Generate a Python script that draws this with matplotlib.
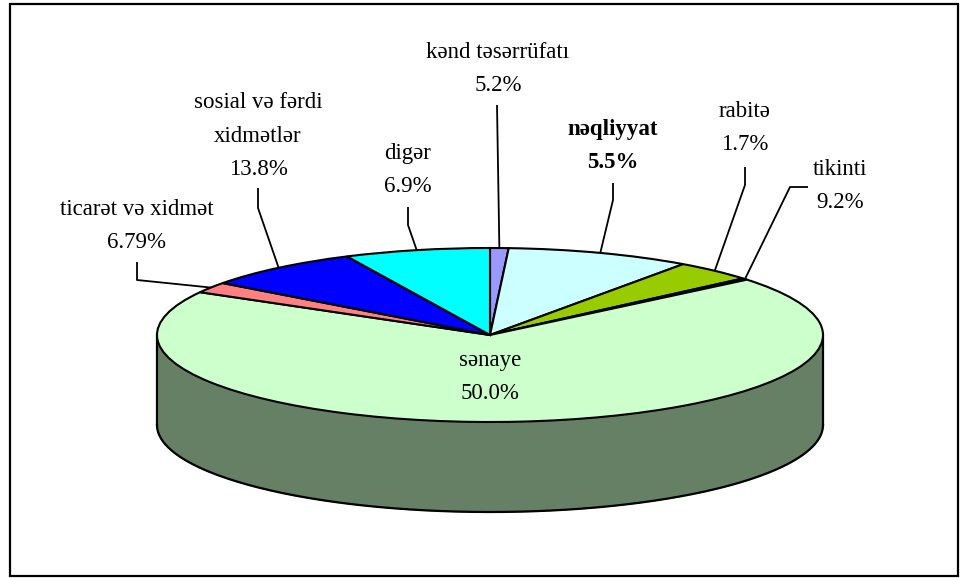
import numpy as np
import matplotlib
matplotlib.use("Agg")
import matplotlib.pyplot as plt
from matplotlib.patches import Rectangle

# ---- data (slice sizes as drawn, label texts as printed) ----
sectors = ["kənd təsərrüfatı", "nəqliyyat", "rabitə", "tikinti",
           "sənaye", "ticarət və xidmət", "sosial və fərdi\nxidmətlər", "digər"]
slice_values = [0.9, 9.0, 3.9, 0.3, 69.5, 2.0, 7.8, 7.1]
label_pcts = ["5.2%", "5.5%", "1.7%", "9.2%", "50.0%", "6.79%", "13.8%", "6.9%"]
colors = ["#9999FF", "#CCFFFF", "#99CC00", "#CC0000",
          "#CCFFCC", "#FF8080", "#0000FF", "#00FFFF"]
side_color = "#668066"

# ---- layout (pixels) ----
W, H = 968, 578
CX, CY, RX, RY = 490, 335, 333, 87
DEPTH = 90 / RY  # in unit-circle y units

fig = plt.figure(figsize=(W / 100, H / 100), dpi=100)
ax = fig.add_axes([0, 0, 1, 1])

def P(x, y):
    """pixel -> pie data coordinates"""
    return ((x - CX) / RX, (CY - y) / RY)

# side of the 3D pie (front half)
t = np.linspace(np.pi, 2 * np.pi, 200)
xs = np.concatenate([np.cos(t), np.cos(t[::-1])])
ys = np.concatenate([np.sin(t), np.sin(t[::-1]) - DEPTH])
ax.fill(xs, ys, color=side_color, zorder=0.5)
ax.plot(np.cos(t), np.sin(t) - DEPTH, color="black", lw=1.6, zorder=0.6)
ax.plot([-1, -1], [0, -DEPTH], color="black", lw=1.6, zorder=0.6)
ax.plot([1, 1], [0, -DEPTH], color="black", lw=1.6, zorder=0.6)

wedges, _ = ax.pie(slice_values, colors=colors, startangle=90, counterclock=False,
                   radius=1, center=(0, 0),
                   wedgeprops=dict(edgecolor="black", linewidth=1.5))
ax.set_aspect("auto")
ax.set_xlim(-CX / RX, (W - CX) / RX)
ax.set_ylim((CY - H) / RY, CY / RY)
ax.axis("off")

font = dict(family=["Liberation Serif", "DejaVu Serif"], fontsize=16.5)

# label positions (pixel) and leader bends (pixel)
label_pos = [(498, 69), (613, 146), (745, 128), (840, 186),
             (490, 377), (137, 226), (258, 136), (408, 170)]
leader_pts = [
    [(497, 105)],
    [(613, 183), (613, 200)],
    [(745, 167), (745, 185)],
    [(808, 187), (790, 187)],
    None,
    [(137, 262), (137, 280)],
    [(258, 188), (258, 208)],
    [(408, 207), (408, 225)],
]

for i, w in enumerate(wedges):
    txt = sectors[i] + "\n" + label_pcts[i]
    bold = "bold" if sectors[i] == "nəqliyyat" else "normal"
    lx, ly = P(*label_pos[i])
    ax.text(lx, ly, txt, ha="center", va="center", linespacing=1.8,
            fontweight=bold, zorder=5, **font)
    if leader_pts[i] is not None:
        mid = np.deg2rad((w.theta1 + w.theta2) / 2)
        pts = [P(*p) for p in leader_pts[i]] + [(np.cos(mid), np.sin(mid))]
        ax.plot([p[0] for p in pts], [p[1] for p in pts], color="black",
                lw=1.3, zorder=4, solid_capstyle="butt")

fig.patches.append(Rectangle((10 / W, 2 / H), 948 / W, 572 / H, transform=fig.transFigure,
                             fill=False, edgecolor="black", linewidth=1.6))

fig.savefig("out.png", dpi=100)
